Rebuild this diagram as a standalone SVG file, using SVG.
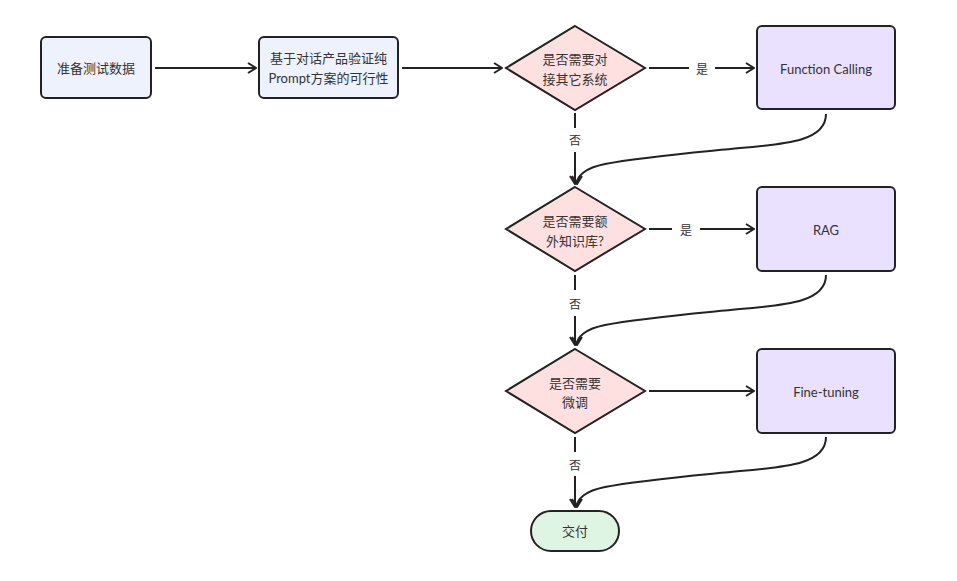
<svg xmlns="http://www.w3.org/2000/svg" width="957" height="581" viewBox="0 0 957 581">
<defs>
<marker id="arr" viewBox="0 0 12 12" refX="11" refY="6" markerWidth="12" markerHeight="12" markerUnits="userSpaceOnUse" orient="auto">
<polyline points="3,1 11,6 3,11" fill="none" stroke="#222" stroke-width="2" stroke-linejoin="miter"/>
</marker>
</defs>
<style>
.bx{stroke:#222;stroke-width:2}
.blue{fill:#eef2fd}
.pink{fill:#ffe0e0}
.purple{fill:#e9e1ff}
.green{fill:#dff5e4}
text{font-family:Lato,"Noto Sans CJK SC",sans-serif;font-size:13px;fill:#333;text-anchor:middle;dominant-baseline:central}
.lbl{font-size:12px}
.e{fill:none;stroke:#222;stroke-width:2}
</style>
<rect width="957" height="581" fill="#fff"/>
<g id="connectors">
<path class="e" d="M155,68 L256,68" marker-end="url(#arr)"/>
<path class="e" d="M402,68 L502,68" marker-end="url(#arr)"/>
<path class="e" d="M649,68 L689,68"/>
<path class="e" d="M715,68 L754,68" marker-end="url(#arr)"/>
<text class="lbl" x="702" y="69">是</text>
<path class="e" d="M575,113 L575,128"/>
<path class="e" d="M575,152 L575,184" marker-end="url(#arr)"/>
<text class="lbl" x="575" y="140">否</text>
<path class="e" d="M826,114 C826,140 790,144 740,148 C690,153 640,157 605,164 C585,168 577,176 577,184" marker-end="url(#arr)"/>
<path class="e" d="M649,229 L672,229"/>
<path class="e" d="M700,229 L754,229" marker-end="url(#arr)"/>
<text class="lbl" x="686" y="230">是</text>
<path class="e" d="M575,275 L575,290"/>
<path class="e" d="M575,316 L575,345" marker-end="url(#arr)"/>
<text class="lbl" x="575" y="304">否</text>
<path class="e" d="M826,275 C826,301 790,305 740,309 C690,314 640,318 605,325 C585,329 577,337 577,345" marker-end="url(#arr)"/>
<path class="e" d="M649,391 L754,391" marker-end="url(#arr)"/>
<path class="e" d="M575,437 L575,452"/>
<path class="e" d="M575,476 L575,507" marker-end="url(#arr)"/>
<text class="lbl" x="575" y="465">否</text>
<path class="e" d="M826,437 C826,463 790,467 740,471 C690,476 640,480 605,487 C585,491 577,499 577,507" marker-end="url(#arr)"/>
</g>
<g id="n1"><rect class="bx blue" x="41" y="37" width="110" height="61" rx="5"/><text x="96" y="68">准备测试数据</text></g>
<g id="n2"><rect class="bx blue" x="259" y="37" width="139" height="61" rx="5"/><text x="328.5" y="58">基于对话产品验证纯</text><text x="328.5" y="78">Prompt方案的可行性</text></g>
<g id="d1"><polygon class="bx pink" points="575,26 645,68 575,110 506,68"/><text x="575" y="59">是否需要对</text><text x="575" y="79">接其它系统</text></g>
<g id="fc"><rect class="bx purple" x="757" y="26" width="138" height="83" rx="5"/><text x="826" y="69">Function Calling</text></g>
<g id="d2"><polygon class="bx pink" points="575,187 645,229 575,271 506,229"/><text x="575" y="221">是否需要额</text><text x="575" y="241">外知识库?</text></g>
<g id="rag"><rect class="bx purple" x="757" y="187" width="138" height="84" rx="5"/><text x="826" y="230">RAG</text></g>
<g id="d3"><polygon class="bx pink" points="575,349 645,391 575,433 506,391"/><text x="575" y="383">是否需要</text><text x="575" y="402">微调</text></g>
<g id="ft"><rect class="bx purple" x="757" y="349" width="138" height="84" rx="5"/><text x="826" y="392">Fine-tuning</text></g>
<g id="end"><rect class="bx green" x="531" y="511" width="88" height="40" rx="20"/><text x="575" y="531">交付</text></g>
</svg>
